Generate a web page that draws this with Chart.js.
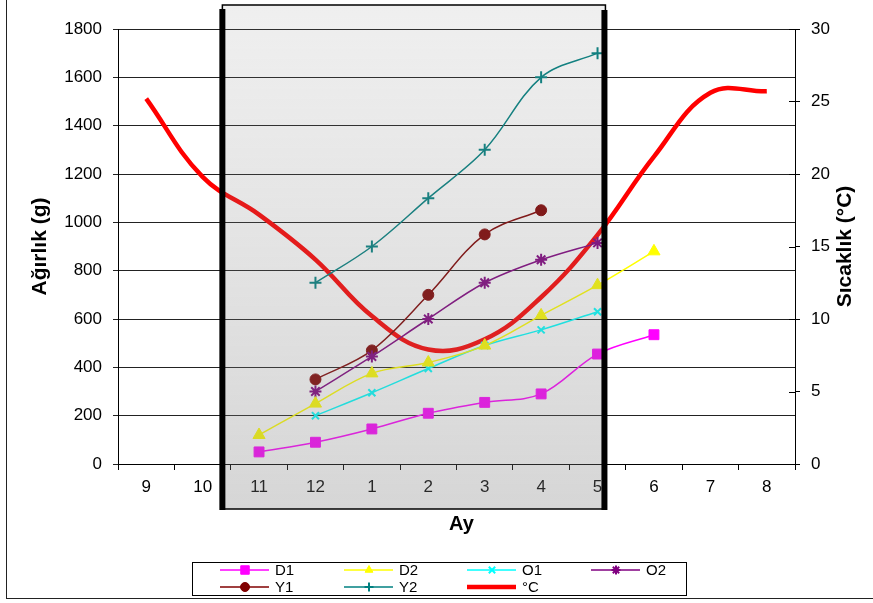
<!DOCTYPE html>
<html>
<head>
<meta charset="utf-8">
<script src="https://cdn.jsdelivr.net/npm/chart.js@4/dist/chart.umd.min.js"></script>
<style>
    body { margin: 0; background: #fff; }
    #wrap { width: 873px; height: 603px; position: relative; }
</style>
</head>
<body>
<div id="wrap"><canvas id="growthChart"></canvas></div>
<script>
// months (Ay) and weights in grams
const months = ["9", "10", "11", "12", "1", "2", "3", "4", "5", "6", "7", "8"]
const d1 = [null, null, 50, 90, 145, 210, 255, 290, 455, 535, null, null]
const d2 = [null, null, 120, 250, 375, 420, 490, 615, 740, 880, null, null]
const o1 = [null, null, null, 200, 295, 395, 490, 555, 630, null, null, null]
const o2 = [null, null, null, 300, 445, 600, 750, 845, 915, null, null, null]
const y1 = [null, null, null, 350, 470, 700, 950, 1050, null, null, null, null]
const y2 = [null, null, null, 750, 900, 1100, 1300, 1600, 1700, null, null, null]
// water temperature (°C)
const temp = [25.2, 19.8, 17.2, 14.1, 10.2, 7.9, 8.6, 11.5, 15.8, 21.2, 25.6, 25.7]

const FONT = "'Liberation Sans', Arial, sans-serif"

function series(label, data, color, style, radius) {
    return {
        label: label,
        data: data,
        yAxisID: "y",
        borderColor: color,
        backgroundColor: color,
        borderWidth: 1.5,
        pointStyle: style,
        pointRadius: radius,
        pointBorderWidth: style == "rect" || style == "circle" || style == "triangle" ? 1 : 2,
        tension: 0.35,
        spanGaps: false,
    }
}

// gray box over the winter months, drawn on top of the lines
const shadeBox = {
    id: "shadeBox",
    afterDatasetsDraw(chart) {
        const c = chart.ctx
        const xs = chart.scales.x
        const area = chart.chartArea
        const step = xs.getPixelForValue(1) - xs.getPixelForValue(0)
        const left = xs.getPixelForValue(1) + 0.35 * step
        const right = xs.getPixelForValue(8) + 0.14 * step
        const top = area.top - 24
        const bottom = area.bottom + 45

        c.save()
        const g = c.createLinearGradient(0, top, 0, bottom)
        g.addColorStop(0, "rgba(128,128,128,0.12)")
        g.addColorStop(1, "rgba(128,128,128,0.32)")
        c.fillStyle = g
        c.fillRect(left, top, right - left, bottom - top)
        c.strokeStyle = "#000"
        c.lineWidth = 1.5
        c.strokeRect(left, top, right - left, bottom - top)
        c.lineWidth = 6
        c.beginPath()
        c.moveTo(left, top + 4)
        c.lineTo(left, bottom + 1)
        c.moveTo(right - 1, top + 5)
        c.lineTo(right - 1, bottom + 1)
        c.stroke()
        c.restore()
    },
}

// axis titles, cross ticks on the right axis, legend and outer frame
const extras = {
    id: "extras",
    afterDraw(chart) {
        const c = chart.ctx
        const area = chart.chartArea
        const midY = (area.top + area.bottom) / 2
        c.save()
        c.fillStyle = "#000"
        c.font = "bold 21px " + FONT
        c.textAlign = "center"
        c.textBaseline = "middle"

        c.save()
        c.translate(40, midY)
        c.rotate(-Math.PI / 2)
        c.fillText("Ağırlık (g)", 0, 0)
        c.restore()

        c.save()
        c.translate(845, midY)
        c.rotate(-Math.PI / 2)
        c.fillText("Sıcaklık (°C)", 0, 0)
        c.restore()

        c.font = "bold 20px " + FONT
        c.fillText("Ay", (area.left + area.right) / 2 + 5, 524)

        // inner half of the right axis ticks
        const yr = chart.scales.y1
        c.strokeStyle = "#000"
        c.lineWidth = 1
        yr.ticks.forEach((t) => {
            const py = Math.round(yr.getPixelForValue(t.value)) + 0.5
            c.beginPath()
            c.moveTo(area.right - 6, py)
            c.lineTo(area.right, py)
            c.stroke()
        })

        // legend
        c.lineWidth = 1
        c.strokeStyle = "#000"
        c.strokeRect(192.5, 562.5, 494, 33)
        const cols = [220, 344, 467, 591]
        const rows = [570, 587]
        c.font = "15px " + FONT
        c.textAlign = "left"
        chart.data.datasets.forEach((ds, i) => {
            const x = cols[i % 4]
            const y = rows[Math.floor(i / 4)]
            c.strokeStyle = ds.borderColor
            c.fillStyle = ds.backgroundColor
            c.lineWidth = ds.borderWidth
            c.beginPath()
            c.moveTo(x, y)
            c.lineTo(x + 49, y)
            c.stroke()
            if (ds.pointRadius > 0) {
                c.lineWidth = ds.pointBorderWidth
                Chart.helpers.drawPoint(c, {
                    pointStyle: ds.pointStyle,
                    radius: ds.pointStyle == "rect" ? 6 : 4.5,
                    borderWidth: ds.pointBorderWidth,
                    rotation: 0,
                }, x + 25, y)
            }
            c.fillStyle = "#000"
            c.fillText(ds.label, x + 55, y + 1)
        })

        // outer frame
        c.strokeStyle = "#222"
        c.lineWidth = 1
        c.strokeRect(6.5, -5, 900, 603.5)
        c.restore()
    },
}

const ctx = document.getElementById("growthChart").getContext("2d")

const growthChart = new Chart(ctx, {
    type: "line",
    data: {
        labels: months,
        datasets: [
            series("D1", d1, "#ff00ff", "rect", 7),
            series("D2", d2, "#ffff00", "triangle", 7),
            series("O1", o1, "#00ffff", "crossRot", 5),
            series("O2", o2, "#800080", "star", 6),
            series("Y1", y1, "#800000", "circle", 5.5),
            series("Y2", y2, "#008080", "cross", 6),
            {
                label: "°C",
                data: temp,
                yAxisID: "y1",
                borderColor: "#ff0000",
                backgroundColor: "#ff0000",
                borderWidth: 4.5,
                pointRadius: 0,
                tension: 0.4,
            },
        ],
    },
    options: {
        responsive: true,
        maintainAspectRatio: false,
        animation: false,
        layout: { padding: { top: 29, left: 0, right: 0, bottom: 0 } },
        plugins: {
            legend: { display: false },
            tooltip: { enabled: false },
        },
        scales: {
            x: {
                offset: true,
                grid: {
                    offset: true,
                    drawOnChartArea: false,
                    drawTicks: true,
                    tickLength: 6,
                    color: "#000",
                },
                border: { color: "#000", width: 1 },
                ticks: { color: "#000", font: { family: FONT, size: 17 }, padding: 7, maxRotation: 0 },
                afterFit: (s) => { s.height = 139 },
            },
            y: {
                position: "left",
                min: 0,
                max: 1800,
                grid: { color: "#222", lineWidth: 1, tickLength: 5 },
                border: { color: "#000", width: 1 },
                ticks: {
                    stepSize: 200,
                    color: "#000",
                    font: { family: FONT, size: 17 },
                    padding: 11,
                    callback: (v) => String(v),
                },
                afterFit: (s) => { s.width = 118 },
            },
            y1: {
                position: "right",
                min: 0,
                max: 30,
                grid: { drawOnChartArea: false, tickLength: 5, color: "#000" },
                border: { color: "#000", width: 1 },
                ticks: { stepSize: 5, color: "#000", font: { family: FONT, size: 17 }, padding: 11 },
                afterFit: (s) => { s.width = 78 },
            },
        },
    },
    plugins: [shadeBox, extras],
})
</script>
</body>
</html>
